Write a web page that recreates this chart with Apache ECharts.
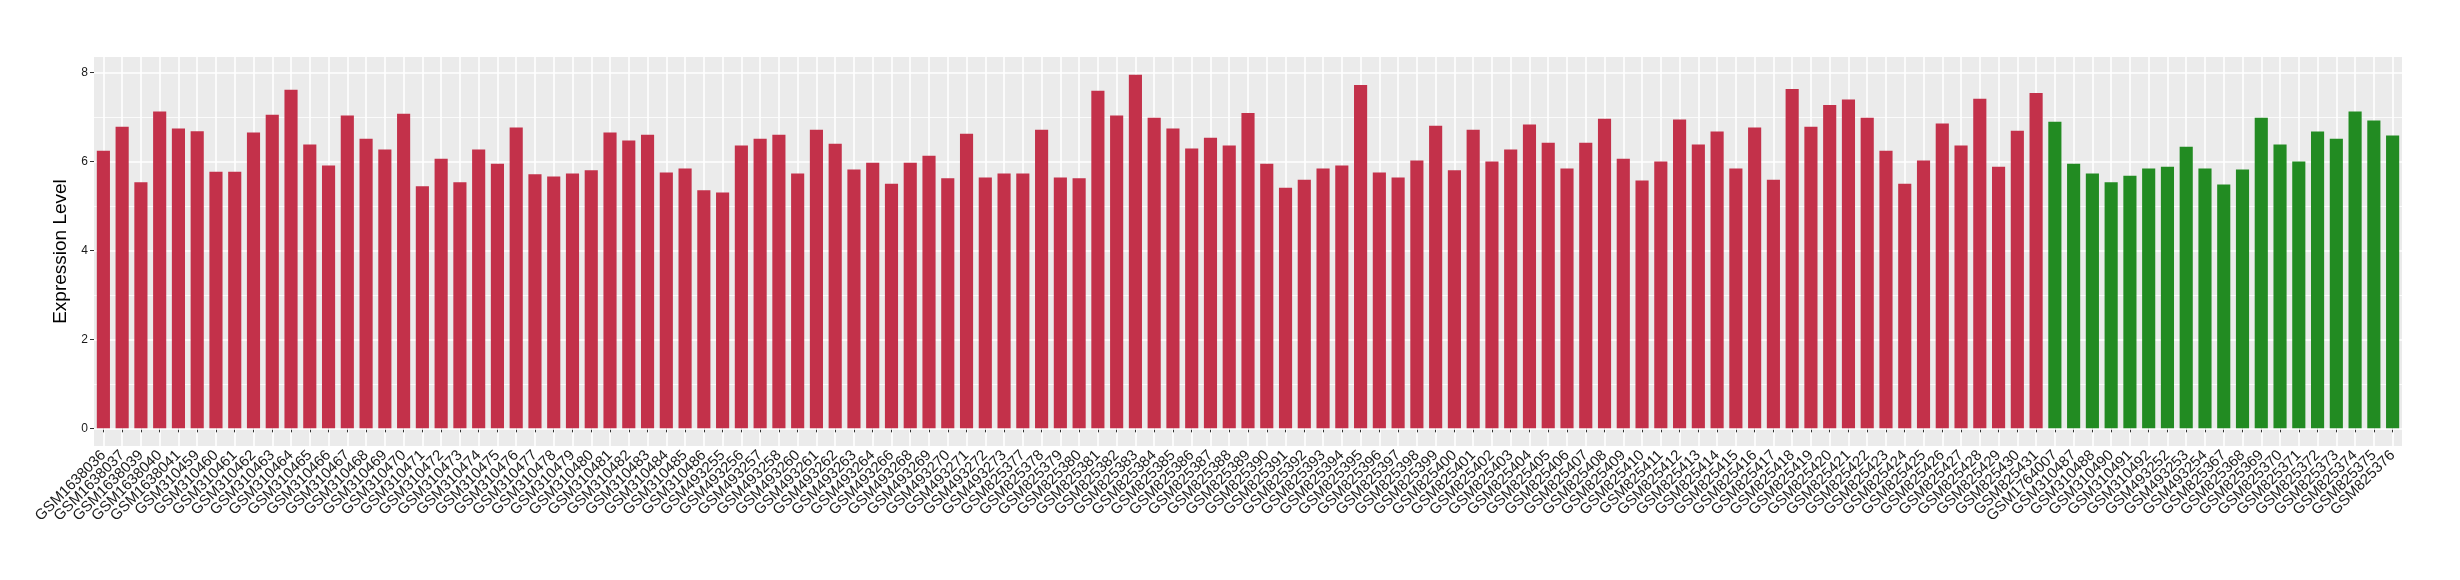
<!DOCTYPE html>
<html>
<head>
<meta charset="utf-8">
<script src="https://cdn.jsdelivr.net/npm/echarts@6/dist/echarts.min.js"></script>
<style>
html,body{margin:0;padding:0;background:#fff;}
#chart{width:2460px;height:580px;}
</style>
</head>
<body>
<div id="chart"></div>
<script>
const redSamples = [
  "GSM1638036","GSM1638037","GSM1638039","GSM1638040","GSM1638041",
  "GSM310459","GSM310460","GSM310461","GSM310462","GSM310463","GSM310464","GSM310465","GSM310466","GSM310467","GSM310468","GSM310469","GSM310470",
  "GSM310471","GSM310472","GSM310473","GSM310474","GSM310475","GSM310476","GSM310477","GSM310478","GSM310479","GSM310480","GSM310481",
  "GSM310482","GSM310483","GSM310484","GSM310485","GSM310486",
  "GSM493255","GSM493256","GSM493257","GSM493258","GSM493260","GSM493261","GSM493262","GSM493263","GSM493264","GSM493266","GSM493268","GSM493269","GSM493270","GSM493271","GSM493272","GSM493273",
  "GSM825377","GSM825378","GSM825379","GSM825380","GSM825381","GSM825382","GSM825383","GSM825384","GSM825385","GSM825386","GSM825387","GSM825388",
  "GSM825389","GSM825390","GSM825391","GSM825392","GSM825393","GSM825394","GSM825395","GSM825396","GSM825397","GSM825398","GSM825399",
  "GSM825400","GSM825401","GSM825402","GSM825403","GSM825404","GSM825405","GSM825406","GSM825407","GSM825408","GSM825409","GSM825410",
  "GSM825411","GSM825412","GSM825413","GSM825414","GSM825415","GSM825416","GSM825417","GSM825418","GSM825419","GSM825420","GSM825421",
  "GSM825422","GSM825423","GSM825424","GSM825425","GSM825426","GSM825427","GSM825428","GSM825429","GSM825430","GSM825431"
];
const redValues = [
  6.24,6.78,5.53,7.12,6.74,
  6.68,5.77,5.77,6.65,7.05,7.61,6.38,5.91,7.03,6.51,6.27,7.07,
  5.44,6.06,5.53,6.27,5.95,6.76,5.71,5.66,5.73,5.80,6.65,
  6.47,6.60,5.75,5.84,5.35,
  5.30,6.36,6.51,6.60,5.73,6.71,6.40,5.82,5.97,5.50,5.97,6.13,5.62,6.62,5.64,5.73,
  5.73,6.71,5.64,5.62,7.59,7.03,7.95,6.98,6.74,6.29,6.53,6.36,
  7.09,5.95,5.41,5.59,5.84,5.91,7.72,5.75,5.64,6.02,6.80,
  5.80,6.71,6.00,6.27,6.83,6.42,5.84,6.42,6.96,6.06,5.57,
  6.00,6.94,6.38,6.67,5.84,6.76,5.59,7.63,6.78,7.27,7.39,
  6.98,6.24,5.50,6.02,6.85,6.36,7.41,5.88,6.69,7.54
];
const greenSamples = [
  "GSM1764007","GSM310487","GSM310488","GSM310490","GSM310491","GSM310492",
  "GSM493252","GSM493253","GSM493254",
  "GSM825367","GSM825368","GSM825369","GSM825370","GSM825371","GSM825372","GSM825373","GSM825374","GSM825375","GSM825376"
];
const greenValues = [
  6.89,5.95,5.73,5.53,5.68,5.84,
  5.88,6.33,5.84,
  5.48,5.82,6.98,6.38,6.00,6.67,6.51,7.12,6.92,6.58
];
const yTicks = [0,2,4,6,8];
const yMinorTicks = [1,3,5,7];
const yAxisTitle = "Expression Level";

const RED = "#C3314A", GREEN = "#228B22";
const categories = redSamples.concat(greenSamples);
const barData = redValues.map(v => ({value: v, itemStyle: {color: RED}}))
  .concat(greenValues.map(v => ({value: v, itemStyle: {color: GREEN}})));

const gridLines = yTicks.map(v => ({yAxis: v, lineStyle: {width: 1.6, color: '#FFFFFF', type: 'solid'}}))
  .concat(yMinorTicks.map(v => ({yAxis: v, lineStyle: {width: 0.8, color: '#FFFFFF', type: 'solid'}})));

const chart = echarts.init(document.getElementById('chart'), null, {renderer: 'canvas'});
chart.setOption({
  backgroundColor: '#FFFFFF',
  animation: false,
  textStyle: {fontFamily: 'Liberation Sans, Arial, sans-serif'},
  grid: {
    left: 94, right: 58, top: 57, bottom: 134,
    show: true, backgroundColor: '#EBEBEB', borderWidth: 0
  },
  xAxis: {
    type: 'category',
    data: categories,
    boundaryGap: true,
    axisLine: {show: false},
    axisTick: {show: true, alignWithLabel: true, length: 4, lineStyle: {color: '#333333', width: 1}},
    splitLine: {show: true, alignWithLabel: true, interval: 0, lineStyle: {color: '#FFFFFF', width: 1.6}},
    axisLabel: {
      interval: 0, rotate: 45, fontSize: 15, color: '#1A1A1A', margin: 7,
      fontFamily: 'Liberation Sans, Arial, sans-serif'
    }
  },
  yAxis: {
    type: 'value',
    min: -0.3975,
    max: 8.3475,
    name: yAxisTitle,
    nameLocation: 'middle',
    nameGap: 13,
    nameTextStyle: {fontSize: 19, color: '#000000', fontFamily: 'Liberation Sans, Arial, sans-serif'},
    axisLine: {show: false},
    axisTick: {show: true, length: 4, customValues: yTicks, lineStyle: {color: '#333333', width: 1}},
    axisLabel: {show: true, customValues: yTicks, fontSize: 12, color: '#1A1A1A', margin: 6,
      fontFamily: 'Liberation Sans, Arial, sans-serif'},
    splitLine: {show: false}
  },
  series: [{
    type: 'bar',
    data: barData,
    barCategoryGap: '30%',
    z: 3,
    markLine: {
      z: 1,
      silent: true,
      symbol: ['none', 'none'],
      label: {show: false},
      data: gridLines
    }
  }]
});
</script>
</body>
</html>
